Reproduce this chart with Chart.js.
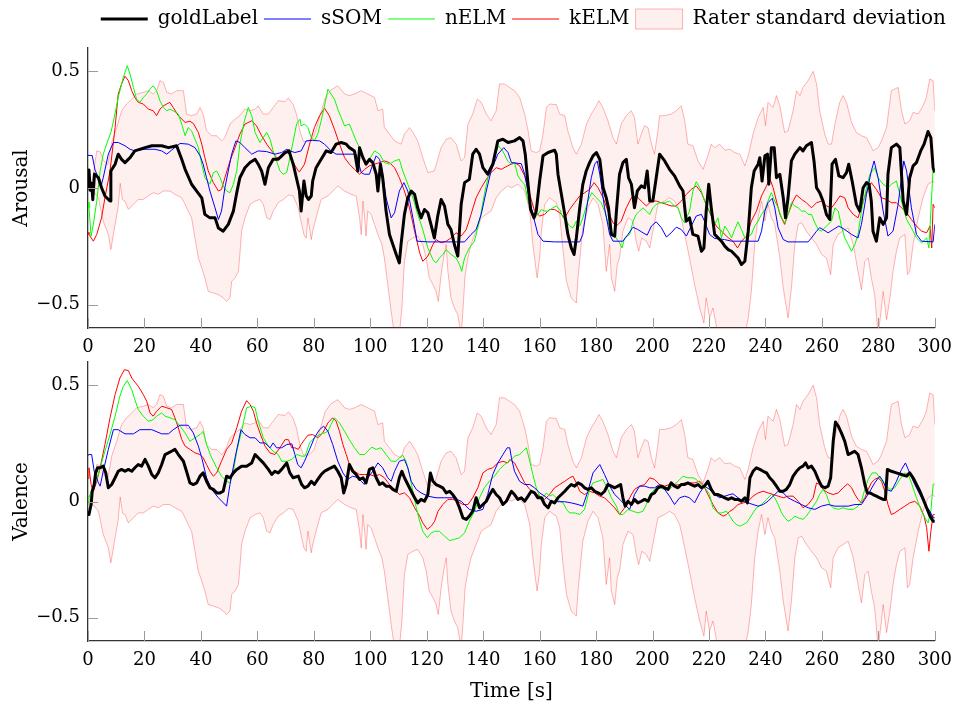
<!DOCTYPE html>
<html><head><meta charset="utf-8">
<script src="https://cdn.jsdelivr.net/npm/chart.js@4/dist/chart.umd.min.js"></script>
<style>
html,body{margin:0;padding:0;background:#fff;}
#wrap{position:relative;width:956px;height:711px;overflow:hidden;background:#fff;}
#c1{position:absolute;left:0;top:0;}
#c2{position:absolute;left:0;top:351px;}
</style></head><body>
<div id="wrap"><canvas id="c1" width="956" height="358"></canvas><canvas id="c2" width="956" height="360"></canvas></div>
<script>
// ---------- labels ----------
const seriesNames = ['goldLabel', 'sSOM', 'nELM', 'kELM', 'Rater standard deviation'];
const panelTitles = ['Arousal', 'Valence'];
const xTitle = 'Time [s]';
const xTicks = [0,20,40,60,80,100,120,140,160,180,200,220,240,260,280,300];
const yTicks = [-0.5, 0, 0.5];

// ---------- Arousal series [time s, value] ----------
const arousalGold = [[0,0.0],[0.35,0.077],[0.8,-0.01],[1.3,0.02],[1.7,-0.05],[2.3,0.06],[3.7,0.044],[4.8,0.001],[6.0,-0.034],[7.8,-0.056],[8.1,0.073],[9.6,0.102],[10.7,0.145],[11.9,0.123],[13.1,0.109],[14.9,0.13],[16.6,0.159],[20.2,0.173],[22.6,0.181],[26.1,0.181],[28.5,0.173],[31.4,0.181],[33.2,0.123],[34.4,0.08],[36.7,0.016],[38.5,-0.013],[40.3,-0.042],[41.4,-0.113],[43.2,-0.128],[45,-0.128],[46.2,-0.171],[47.9,-0.185],[49.7,-0.156],[51.5,-0.099],[52.7,-0.02],[53.8,0.044],[55.6,0.087],[57.4,0.109],[59.2,0.123],[60.3,0.102],[61.5,0.073],[62.7,0.016],[63.9,0.087],[65.6,0.123],[67.4,0.123],[69.8,0.152],[71.2,0.159],[72.7,0.102],[74.9,-0.013],[75.5,-0.099],[76.5,0.03],[77.3,-0.034],[78.1,-0.049],[79.1,-0.034],[79.6,0.03],[80.8,0.087],[82.6,0.123],[84.4,0.159],[86.1,0.152],[87.9,0.188],[89.7,0.195],[91.5,0.188],[92.6,0.173],[94.4,0.159],[95.6,0.073],[96.2,0.173],[97.4,0.13],[98.5,0.102],[99.7,0.123],[100.9,0.109],[102.1,0.059],[102.7,-0.013],[103.6,0.102],[104.4,0.044],[105.6,-0.099],[106.8,-0.199],[108,-0.242],[109.2,-0.285],[110.3,-0.321],[110.9,-0.242],[112.1,-0.113],[113.3,-0.042],[114.5,-0.013],[115.7,-0.027],[116.8,-0.085],[118,-0.128],[119.2,-0.092],[120.4,-0.106],[121.5,-0.156],[122.7,-0.214],[123.9,-0.12],[125.1,-0.049],[126.3,-0.077],[127.5,-0.156],[128.6,-0.178],[129.8,-0.242],[131,-0.292],[132.2,-0.07],[133.4,0.023],[135.1,0.037],[136.3,0.145],[137.5,0.166],[138.7,0.145],[139.9,0.087],[141.6,0.059],[143.4,0.102],[145.2,0.202],[147,0.209],[148.8,0.195],[151.1,0.202],[152.9,0.216],[154.1,0.202],[154.9,0.145],[155.9,0.016],[156.8,-0.092],[158,-0.128],[158.8,-0.099],[160,0.03],[161.2,0.138],[163,0.152],[165.3,0.162],[165.9,0.145],[166.5,0.059],[167.7,-0.027],[168.9,-0.113],[170,-0.199],[171.2,-0.257],[172.2,-0.285],[173,-0.214],[174.2,-0.085],[175.3,0.016],[176.5,0.073],[177.7,0.109],[178.9,0.138],[180.1,0.152],[181.3,0.123],[182.5,0.001],[183.6,-0.042],[184.4,-0.085],[185.4,-0.199],[186.6,-0.206],[187.2,-0.099],[188.3,0.059],[189.5,0.109],[190.7,0.123],[191.5,0.044],[192.5,0.016],[193.6,-0.085],[194.6,-0.013],[196,0.009],[197.2,0.001],[198.1,0.073],[199,-0.056],[200.1,-0.056],[201.3,0.044],[202.5,0.145],[204.3,0.116],[206,0.08],[207.8,0.052],[209.6,0.009],[210.8,-0.013],[211.9,-0.142],[213.1,-0.128],[214.3,-0.199],[216.1,-0.206],[217.3,-0.271],[218.2,-0.257],[219,-0.099],[219.9,0.016],[220.8,-0.085],[222,-0.199],[224.4,-0.228],[225.6,-0.249],[226.8,-0.264],[228,-0.271],[229.1,-0.285],[230.3,-0.3],[231.5,-0.328],[232.7,-0.314],[233.9,-0.185],[235,0.001],[236,0.073],[237.4,0.102],[238,0.13],[238.8,0.03],[239.8,0.138],[240.7,0.145],[241.2,0.016],[242.1,0.173],[243.1,0.173],[243.9,0.044],[245.1,0.059],[246.3,-0.042],[247.1,-0.128],[248,-0.042],[249.2,0.116],[250.4,0.145],[252.2,0.173],[253.3,0.159],[254.5,0.181],[256.3,0.195],[257.2,0.116],[258.1,0.001],[259.2,-0.02],[260.4,-0.056],[261.6,-0.113],[262.8,-0.135],[263.6,0.102],[264.8,0.123],[266,0.052],[267.5,0.044],[268.7,0.066],[269.5,0.102],[270.7,0.03],[272.2,-0.07],[273.4,-0.099],[274.6,0.001],[275.8,0.023],[276.7,0.016],[277.5,-0.056],[278.1,-0.185],[279.3,-0.228],[280.5,-0.128],[281.7,-0.156],[282.9,-0.128],[283.4,0.059],[284.6,0.173],[286.4,0.188],[287.6,0.173],[288.8,-0.056],[290,-0.113],[291.1,0.044],[292.3,0.095],[293.5,0.109],[295,0.159],[296.2,0.188],[297.6,0.242],[298.6,0.216],[299.4,0.087],[300,0.066]];
const arousalSSOM = [[0,0.14],[1.5,0.139],[2.5,0.077],[3.7,0.044],[4.8,0.016],[5.4,0.044],[7.2,0.145],[9,0.195],[10.7,0.195],[13.1,0.181],[14.9,0.166],[16.6,0.159],[20.2,0.166],[23.7,0.166],[26.1,0.159],[27.9,0.145],[29.6,0.162],[32.6,0.191],[35.5,0.188],[37.9,0.173],[39.7,0.138],[40.8,0.102],[42,0.044],[43.2,-0.013],[45,-0.085],[46.2,-0.135],[47.3,-0.099],[48.5,0.001],[50.9,0.145],[52.4,0.202],[53.8,0.195],[55.6,0.173],[58,0.145],[60.3,0.159],[63.3,0.156],[66.2,0.145],[68.6,0.152],[70.4,0.166],[71.5,0.159],[73.3,0.152],[75.5,0.159],[77.3,0.202],[79.6,0.204],[82,0.202],[83.8,0.188],[86.1,0.159],[87.9,0.145],[90.9,0.145],[95,0.145],[96.8,0.066],[97.9,0.059],[99.7,0.059],[100.9,0.102],[102.1,0.138],[103.3,0.123],[104.4,0.059],[105.6,-0.042],[107.4,-0.128],[108.6,-0.106],[110.3,-0.013],[111.9,0.023],[113.3,-0.013],[115.1,-0.128],[116.6,-0.228],[120.4,-0.231],[126.3,-0.231],[133.4,-0.231],[135.7,-0.199],[137.5,-0.178],[139.3,-0.113],[141.1,-0.013],[142.8,0.073],[145.2,0.145],[147.3,0.173],[148.8,0.152],[150,0.109],[153.5,0.104],[154.7,0.059],[156.5,-0.056],[158.2,-0.142],[159.4,-0.199],[161.2,-0.228],[165.3,-0.231],[171.2,-0.231],[174.2,-0.231],[175.3,-0.199],[176.5,-0.099],[178.3,0.044],[179.5,0.102],[180.4,0.116],[181.3,0.059],[183,-0.085],[184.8,-0.199],[186,-0.228],[189.5,-0.228],[191.3,-0.199],[193.1,-0.168],[194.8,-0.178],[196.6,-0.192],[198.1,-0.202],[199.6,-0.163],[201.3,-0.145],[203.1,-0.17],[204.9,-0.21],[206.6,-0.192],[208.4,-0.168],[210.2,-0.178],[212,-0.206],[213.7,-0.163],[215.5,-0.12],[217.3,-0.113],[218.4,-0.142],[220.2,-0.199],[222,-0.216],[225.5,-0.221],[228,-0.228],[237.4,-0.228],[238.6,-0.185],[239.8,-0.099],[240.9,-0.063],[242.4,-0.044],[243.3,-0.085],[244.5,-0.171],[246.3,-0.221],[248,-0.231],[255.1,-0.231],[256.3,-0.214],[258.1,-0.185],[259.2,-0.17],[260.4,-0.178],[262.2,-0.192],[264,-0.178],[266,-0.163],[268.1,-0.178],[270.5,-0.199],[272.8,-0.214],[274,-0.156],[275.8,-0.027],[277.5,0.073],[278.5,0.116],[279.9,0.044],[281.7,-0.099],[283.4,-0.206],[285.2,-0.185],[287,-0.07],[288.2,0.044],[289,0.116],[290,0.073],[291.7,-0.085],[293.5,-0.199],[295.3,-0.228],[299.4,-0.231],[300,-0.156]];
const arousalNELM = [[0,-0.06],[0.35,-0.085],[1.1,-0.206],[1.9,-0.156],[3.1,-0.056],[4.3,0.073],[5.4,0.145],[6.6,0.188],[8.1,0.238],[9.3,0.302],[10.7,0.388],[12.5,0.474],[13.9,0.524],[14.9,0.488],[16.1,0.431],[17.2,0.381],[18.4,0.367],[19.6,0.388],[20.8,0.403],[22,0.424],[23.1,0.438],[24.3,0.417],[25.5,0.374],[26.7,0.345],[27.9,0.331],[29,0.338],[30.2,0.331],[32,0.317],[33.2,0.274],[34.4,0.224],[35.5,0.259],[36.7,0.245],[37.9,0.209],[39.1,0.173],[40.3,0.102],[41.4,0.044],[43.2,0.016],[44.4,0.066],[45.6,0.073],[46.8,0.044],[47.9,0.009],[49.1,-0.013],[50.3,-0.02],[51.5,0.016],[52.7,0.073],[53.8,0.188],[55.4,0.288],[56.8,0.345],[58,0.31],[59.2,0.238],[60.9,0.195],[62.1,0.216],[63.3,0.238],[64.5,0.209],[65.6,0.159],[66.8,0.116],[68,0.073],[69.2,0.059],[70.4,0.066],[71.5,0.13],[72.7,0.202],[73.9,0.274],[75.1,0.295],[75.5,0.266],[76.7,0.274],[77.9,0.259],[79.1,0.216],[80.2,0.202],[81.4,0.231],[82.6,0.288],[83.8,0.352],[85,0.424],[86.1,0.403],[87.3,0.381],[88.5,0.338],[89.7,0.302],[90.9,0.266],[92.6,0.274],[93.8,0.238],[95,0.202],[96.2,0.173],[97.4,0.123],[98.5,0.102],[99.7,0.123],[101.5,0.159],[103.3,0.145],[105,0.109],[106.8,0.102],[108.6,0.116],[110.3,0.123],[111.5,0.073],[113.3,0.016],[115.1,-0.042],[116.8,-0.113],[118.6,-0.178],[120.4,-0.257],[122.2,-0.307],[123.3,-0.321],[124.5,-0.3],[125.7,-0.285],[126.9,-0.264],[128.6,-0.285],[130.4,-0.3],[131.6,-0.328],[132.4,-0.357],[133.4,-0.3],[135.1,-0.257],[136.9,-0.228],[138.7,-0.142],[140.4,-0.027],[142.2,0.073],[144,0.13],[145.4,0.181],[146.9,0.159],[148.7,0.116],[150,0.1],[151.1,0.109],[152.3,0.052],[153.5,0.03],[154.7,0.016],[155.9,-0.056],[157,-0.099],[158.2,-0.128],[159.4,-0.113],[160.6,-0.092],[161.8,-0.099],[163,-0.099],[164.7,-0.085],[165.9,-0.077],[167.1,-0.092],[168.3,-0.128],[169.5,-0.142],[170.6,-0.163],[171.8,-0.171],[173,-0.142],[174.2,-0.163],[175.3,-0.128],[177.1,-0.056],[178.5,-0.02],[180.1,-0.042],[181.8,-0.063],[183,-0.099],[184.8,-0.171],[186.6,-0.206],[188.3,-0.235],[189.2,-0.257],[190.1,-0.214],[191.9,-0.199],[193.1,-0.142],[194.2,-0.113],[195.4,-0.099],[196.6,-0.085],[197.8,-0.099],[199,-0.113],[200.1,-0.085],[201.3,-0.07],[202.5,-0.063],[204.3,-0.063],[206,-0.056],[207.8,-0.077],[209,-0.085],[210.2,-0.128],[211.3,-0.149],[213.1,-0.099],[214.3,-0.013],[215.5,0.027],[217.3,-0.013],[218.4,-0.056],[220.2,-0.099],[222,-0.156],[223.2,-0.128],[224.4,-0.214],[225.6,-0.163],[226.8,-0.185],[228,-0.214],[229.1,-0.178],[230.3,-0.145],[231.5,-0.178],[232.7,-0.214],[233.9,-0.206],[235,-0.199],[236.2,-0.163],[237.4,-0.142],[238.6,-0.113],[239.8,-0.092],[240.9,-0.056],[242.1,-0.02],[243.3,-0.056],[244.5,-0.085],[245.7,-0.128],[246.9,-0.149],[248,-0.113],[249.2,-0.063],[250.4,-0.077],[251.6,-0.085],[252.8,-0.099],[254,-0.099],[255.1,-0.113],[256.3,-0.113],[257.5,-0.149],[258.7,-0.178],[259.9,-0.185],[261.6,-0.163],[263.4,-0.142],[264.6,-0.085],[265.8,-0.099],[266.9,-0.163],[268.1,-0.214],[269.3,-0.242],[270.5,-0.271],[271.7,-0.242],[272.8,-0.199],[274,-0.099],[275.8,0.001],[277,0.059],[278.7,0.087],[279.9,0.044],[281.7,0.016],[283.4,0.001],[284.6,0.016],[286.4,0.03],[287.6,-0.027],[288.8,-0.085],[290,-0.135],[291.7,-0.171],[293.5,-0.214],[295.3,-0.235],[297.1,-0.214],[297.9,-0.257],[298.6,-0.099],[299.4,0.087],[300,0.073]];
const arousalKELM = [[0,-0.19],[0.35,-0.199],[1.9,-0.228],[3.1,-0.199],[4.8,-0.128],[6,-0.042],[7.8,0.073],[9.6,0.259],[10.7,0.403],[11.9,0.446],[13.1,0.479],[14.3,0.46],[15.5,0.417],[16.6,0.388],[17.8,0.367],[19.6,0.36],[21.4,0.338],[23.1,0.331],[24.3,0.31],[25.5,0.338],[26.7,0.352],[27.9,0.36],[29,0.367],[30.2,0.345],[32,0.31],[34.4,0.281],[36.1,0.286],[37.3,0.277],[39.1,0.238],[40.3,0.188],[41.4,0.13],[42.6,0.073],[44.4,0.023],[46.2,-0.013],[47.3,-0.006],[48.5,0.044],[50.3,0.116],[52.1,0.173],[53.8,0.231],[55.6,0.274],[58,0.288],[59.7,0.266],[61.5,0.224],[63.3,0.188],[65.1,0.159],[66.8,0.13],[68.6,0.13],[70.4,0.152],[71.5,0.145],[72.7,0.109],[74.5,0.073],[74.9,0.069],[76.7,0.102],[78.5,0.188],[80.2,0.259],[82,0.309],[83.8,0.342],[85.5,0.309],[87.3,0.252],[89.1,0.188],[90.9,0.13],[92.6,0.102],[94.4,0.08],[96.2,0.059],[98,0.08],[99.7,0.095],[101.5,0.102],[103.3,0.109],[105,0.116],[106.8,0.109],[108.6,0.087],[110.3,0.044],[112.1,-0.013],[113.9,-0.085],[115.7,-0.185],[117.5,-0.278],[118.6,-0.314],[120.4,-0.292],[122.2,-0.242],[123.3,-0.221],[125.1,-0.235],[126.9,-0.228],[128.6,-0.214],[130.4,-0.192],[132.2,-0.206],[134,-0.178],[135.7,-0.113],[137.5,-0.042],[139.3,0.001],[141.1,0.037],[142.8,0.066],[144.6,0.087],[146.4,0.08],[148.7,0.095],[151.1,0.109],[152.9,0.095],[154.7,0.052],[156.5,-0.027],[158.2,-0.099],[160,-0.12],[161.8,-0.113],[163.5,-0.092],[165.3,-0.092],[167.1,-0.106],[168.9,-0.128],[170.6,-0.092],[172.4,-0.063],[174.2,-0.034],[176,-0.02],[177.7,-0.006],[179.3,0.023],[180.7,0.001],[182.5,-0.042],[184.2,-0.099],[186,-0.149],[187.2,-0.163],[188.9,-0.142],[190.7,-0.085],[192.5,-0.042],[194.2,-0.034],[196,-0.056],[197.8,-0.077],[199.6,-0.056],[201.3,-0.056],[203.1,-0.063],[204.9,-0.07],[206.6,-0.077],[208.4,-0.077],[210.2,-0.056],[212,-0.027],[213.7,-0.006],[215.5,0.009],[217.3,-0.02],[219,-0.07],[220.8,-0.12],[222.6,-0.163],[224.4,-0.185],[226.8,-0.213],[228.5,-0.228],[230.1,-0.257],[231.5,-0.228],[233.3,-0.206],[235,-0.142],[236.8,-0.099],[238.6,-0.034],[240.4,0.009],[241.5,0.042],[242.7,0.001],[243.9,-0.056],[245.1,-0.113],[246.8,-0.156],[248,-0.113],[249.8,-0.056],[251,-0.03],[252.8,-0.049],[254.5,-0.063],[256.3,-0.085],[258.1,-0.063],[259.9,-0.056],[261.6,-0.077],[263.4,-0.085],[265.2,-0.056],[266.4,-0.034],[268.1,-0.042],[269.3,-0.085],[271.1,-0.113],[272.8,-0.128],[274.6,-0.056],[276.4,0.001],[277.5,0.023],[279.3,-0.006],[281.1,-0.042],[282.9,-0.049],[284.6,-0.063],[286.4,-0.063],[288.2,-0.085],[290,-0.106],[291.7,-0.135],[293.5,-0.163],[295.3,-0.185],[297.1,-0.192],[298.3,-0.163],[298.9,-0.257],[299.4,-0.07],[300,-0.085]];

// ---------- Valence series [time s, value] ----------
const valenceGold = [[0,-0.05],[0.35,-0.056],[1.1,-0.013],[1.5,0.044],[2.2,0.073],[2.7,0.123],[3.4,0.145],[4.3,0.145],[5.4,0.152],[6.3,0.123],[7.2,0.059],[8.4,0.073],[9.6,0.102],[10.7,0.13],[11.9,0.138],[13.1,0.13],[14.3,0.138],[15.5,0.13],[16.6,0.145],[17.8,0.159],[19,0.152],[20.2,0.181],[21.4,0.152],[22.6,0.116],[23.7,0.102],[24.9,0.123],[26.1,0.159],[27.3,0.202],[28.5,0.209],[29.6,0.216],[30.8,0.224],[32,0.202],[33.8,0.173],[34.9,0.13],[36.1,0.08],[37.3,0.073],[38.5,0.08],[39.7,0.109],[40.8,0.123],[42,0.087],[43.2,0.059],[44.4,0.052],[45.6,0.037],[46.8,0.037],[47.9,0.044],[49.1,0.109],[50.3,0.102],[51.5,0.123],[52.7,0.138],[54.4,0.152],[56.2,0.152],[58,0.166],[59.2,0.202],[60.3,0.188],[62.1,0.166],[63.9,0.138],[65.1,0.116],[66.2,0.13],[67.4,0.123],[68.6,0.138],[70.4,0.166],[71.5,0.123],[72.7,0.102],[74.5,0.109],[75.7,0.073],[76.7,0.059],[77.9,0.066],[79.1,0.087],[80.2,0.073],[81.4,0.095],[82.6,0.116],[83.8,0.13],[85,0.138],[86.1,0.145],[87.3,0.152],[88.5,0.13],[89.7,0.102],[90.6,0.037],[91.5,0.073],[92.6,0.159],[93.8,0.13],[95,0.116],[96.2,0.095],[97.4,0.102],[98.5,0.08],[99.7,0.138],[100.9,0.145],[102.1,0.102],[103.3,0.073],[104.4,0.08],[105.6,0.066],[106.8,0.066],[108,0.052],[109.2,0.044],[110.3,0.102],[111.2,0.13],[112.1,0.102],[113.3,0.073],[114.5,0.044],[115.7,0.016],[116.8,-0.006],[118,0.009],[119.2,0.001],[120.4,0.03],[121.3,0.123],[122.2,0.087],[123.3,0.073],[124.5,0.066],[125.7,0.059],[126.9,0.037],[128.1,0.044],[129.2,0.03],[130.4,0.009],[131.6,-0.027],[132.8,-0.07],[134,-0.077],[135.1,-0.063],[136.3,-0.042],[137.5,0.016],[138.7,-0.027],[139.9,-0.013],[141.1,0.001],[142.3,0.03],[143.4,0.052],[144.6,0.03],[145.8,0.016],[147,-0.013],[148.2,0.001],[149.4,0.03],[150,0.044],[151.1,0.03],[152.3,0.009],[153.5,0.016],[154.7,0.001],[155.9,0.023],[157,0.044],[158.2,0.037],[159.4,0.016],[160.6,0.016],[161.8,-0.013],[163,-0.027],[164.1,0.001],[165.3,-0.006],[166.5,0.016],[167.7,0.03],[168.9,0.044],[170,0.059],[171.2,0.073],[172.4,0.066],[173.6,0.08],[174.8,0.073],[175.9,0.059],[177.1,0.052],[178.3,0.059],[179.5,0.044],[180.7,0.037],[181.8,0.03],[183,0.044],[184.2,0.073],[185.4,0.066],[186.6,0.059],[187.7,0.066],[188.7,0.073],[189.5,0.016],[190.3,-0.02],[191.3,0.001],[192.5,-0.013],[193.6,0.009],[194.8,-0.006],[196,0.001],[197.2,0.009],[198.4,0.001],[199.6,0.03],[200.7,0.037],[201.9,0.059],[203.1,0.066],[204.3,0.059],[205.5,0.052],[206.6,0.08],[207.8,0.066],[209,0.059],[210.2,0.073],[211.4,0.073],[212.5,0.08],[213.7,0.073],[214.9,0.066],[216.1,0.073],[217.3,0.059],[218.4,0.066],[219.6,0.087],[220.8,0.052],[222,0.03],[223.2,0.03],[224.4,0.023],[225.6,0.016],[226.8,0.009],[228,0.016],[229.1,0.009],[230.3,0.009],[231.5,0.001],[232.7,0.016],[233.6,-0.006],[234.5,0.102],[235.6,0.13],[236.8,0.145],[238,0.138],[239.2,0.13],[240.4,0.123],[241.5,0.102],[242.7,0.087],[243.9,0.066],[245.1,0.044],[246.3,0.044],[247.4,0.052],[248.6,0.073],[249.8,0.109],[251,0.13],[252.2,0.145],[253.3,0.152],[254.2,0.166],[255.1,0.145],[256.3,0.152],[257.5,0.13],[258.7,0.095],[259.9,0.066],[261,0.059],[262.2,0.066],[263.1,0.102],[264,0.259],[264.8,0.342],[265.8,0.324],[266.9,0.295],[268.1,0.259],[269.3,0.202],[270.5,0.209],[271.6,0.216],[272.8,0.202],[274,0.145],[275.2,0.073],[276.1,0.037],[277,0.037],[278.1,0.03],[279.3,0.023],[280.5,0.016],[281.7,0.009],[282.5,0.009],[283.2,0.138],[284.6,0.13],[286.4,0.123],[288.2,0.116],[290,0.109],[291.1,0.123],[292.3,0.102],[293.5,0.073],[294.7,0.044],[295.9,0.009],[297.1,-0.027],[298.3,-0.063],[299.4,-0.085],[300,-0.085]];
const valenceSSOM = [[0,0.2],[0.35,0.202],[1.3,0.202],[2.2,0.13],[3.7,0.08],[4.3,0.066],[5.4,0.13],[7.2,0.224],[9,0.309],[10.7,0.309],[13.1,0.291],[16.1,0.291],[18.4,0.309],[22.6,0.309],[26.1,0.291],[28.5,0.291],[30.2,0.309],[32.6,0.328],[35.5,0.328],[37.3,0.295],[39.1,0.238],[40.3,0.188],[42,0.102],[43.8,0.052],[46.2,0.016],[49.1,-0.02],[50.3,0.073],[52.1,0.188],[54.2,0.309],[55.6,0.288],[57.4,0.274],[59.2,0.274],[60.9,0.252],[62.7,0.252],[64.5,0.231],[65.6,0.252],[66.8,0.231],[68.6,0.231],[70.4,0.245],[72.2,0.248],[73.3,0.202],[74.3,0.159],[75.5,0.145],[76.7,0.173],[78.5,0.224],[80.2,0.274],[82,0.309],[83.5,0.324],[85,0.302],[86.7,0.245],[88.5,0.173],[90.3,0.123],[92,0.095],[93.8,0.109],[95.6,0.102],[96.8,0.087],[97.9,0.073],[99.1,0.102],[100.9,0.13],[102.7,0.166],[104.4,0.145],[106.2,0.102],[107.4,0.087],[108.6,0.13],[110.3,0.173],[112.1,0.18],[113.3,0.145],[114.5,0.087],[116.3,0.052],[118,0.037],[120.4,0.023],[123.3,0.016],[126.3,0.016],[129.2,0.016],[132.2,0.001],[135.1,-0.034],[137.5,-0.042],[139.9,-0.034],[141.6,0.03],[143.4,0.116],[145.2,0.166],[147,0.202],[148.5,0.231],[149.4,0.231],[150,0.188],[151.1,0.13],[152.9,0.087],[154.7,0.073],[156.5,0.073],[158.2,0.059],[160,0.037],[161.8,0.023],[164.1,0.001],[166.5,-0.001],[168.9,-0.001],[171.2,-0.006],[173.6,-0.013],[175.3,-0.02],[177.1,0.044],[178.9,0.123],[181.3,0.159],[183,0.116],[184.8,0.066],[186.6,0.03],[188.4,0.009],[190.1,-0.013],[191.9,-0.034],[193.6,0.03],[195.4,0.066],[197.2,0.066],[199,0.059],[200.7,0.059],[202.5,0.073],[204.3,0.052],[206,0.023],[207.8,-0.013],[209.6,0.016],[211.4,0.023],[213.1,0.016],[214.9,-0.006],[216.7,0.037],[218.4,0.066],[220.2,0.052],[222,0.03],[223.8,0.016],[225.6,0.023],[227.4,0.03],[228.5,0.033],[230.3,0.016],[232.1,0.001],[233.9,-0.006],[235.6,-0.013],[237.4,-0.02],[239.2,-0.013],[240.9,0.001],[242.7,0.023],[244.5,0.044],[246.3,0.037],[248,0.016],[250.4,0.001],[252.8,-0.013],[255.1,-0.027],[257.5,-0.034],[259.8,-0.02],[262.2,-0.013],[264.6,-0.02],[266.9,-0.02],[269.3,-0.02],[271.7,-0.013],[274,-0.013],[275.2,0.009],[277,0.044],[278.7,0.08],[280.5,0.109],[281.7,0.087],[282.9,0.052],[284.6,0.044],[286.4,0.087],[288.2,0.138],[289.6,0.166],[291.1,0.123],[292.9,0.073],[294.7,0.03],[296.5,-0.013],[298.3,-0.042],[299.4,-0.07],[300,-0.07]];
const valenceNELM = [[0,0.0],[0.35,0.016],[1.1,0.044],[1.9,0.066],[3.1,0.095],[4.3,0.145],[6,0.216],[7.8,0.288],[9.6,0.367],[11.3,0.453],[12.5,0.495],[13.9,0.52],[15.5,0.481],[16.6,0.438],[17.8,0.396],[19.6,0.367],[21.4,0.345],[23.1,0.352],[24.3,0.367],[26.1,0.381],[27.3,0.367],[29,0.36],[30.8,0.352],[32.6,0.324],[34.4,0.295],[36.1,0.259],[37.9,0.274],[39.7,0.288],[40.8,0.302],[42,0.245],[43.8,0.188],[45.6,0.145],[47.3,0.109],[49.1,0.087],[50.3,0.08],[51.5,0.13],[52.7,0.216],[54.4,0.302],[56.2,0.403],[58,0.41],[59.2,0.403],[60.3,0.345],[62.1,0.274],[63.9,0.238],[65.6,0.216],[67.4,0.202],[68.6,0.173],[70.4,0.173],[72.2,0.181],[74,0.202],[75.7,0.195],[76.9,0.195],[78.5,0.252],[80.2,0.274],[82,0.288],[83.8,0.295],[85,0.302],[86.1,0.331],[87.3,0.36],[89.1,0.338],[90.9,0.302],[92.6,0.266],[94.4,0.231],[96.2,0.202],[98,0.202],[99.1,0.216],[100.5,0.234],[102.1,0.224],[103.8,0.231],[105.6,0.202],[107.4,0.173],[109.2,0.173],[110.3,0.188],[111.5,0.199],[112.7,0.173],[113.9,0.116],[115.1,0.044],[116.3,-0.027],[117.5,-0.085],[118.6,-0.128],[120.2,-0.156],[121.6,-0.135],[122.8,-0.128],[124.5,-0.128],[126.3,-0.149],[128.1,-0.168],[129.8,-0.163],[131.6,-0.156],[133.4,-0.135],[135.1,-0.085],[136.9,-0.042],[138.7,0.016],[140.4,0.059],[142.2,0.087],[144,0.109],[145.8,0.138],[147.5,0.159],[149.3,0.173],[151.1,0.195],[152.9,0.202],[154.1,0.216],[155.3,0.231],[156.5,0.173],[157.6,0.116],[158.8,0.059],[160,0.023],[161.2,0.016],[162.4,0.037],[163.5,0.023],[164.7,0.03],[165.9,0.016],[167.1,0.001],[168.3,-0.006],[169.5,-0.034],[170.6,-0.049],[172.4,-0.049],[174.2,-0.056],[175.9,-0.034],[177.7,0.052],[178.9,0.08],[180.7,0.087],[182.4,0.095],[184.2,0.052],[185.4,0.016],[187.2,-0.02],[188.3,-0.056],[189.5,-0.056],[191.3,-0.034],[193.1,-0.042],[194.8,-0.049],[196.6,-0.042],[197.8,-0.013],[199,0.03],[200.7,0.052],[202.5,0.059],[204.3,0.052],[206,0.052],[207.2,0.066],[209,0.087],[210.8,0.109],[212.5,0.102],[214.3,0.102],[215.5,0.095],[217.3,0.073],[219,0.052],[220.2,0.03],[221.4,-0.027],[223.2,-0.049],[224.4,-0.049],[226.2,-0.042],[227.4,-0.063],[228.5,-0.085],[229.7,-0.099],[230.9,-0.106],[232.1,-0.099],[233.3,-0.092],[234.5,-0.07],[235.6,-0.049],[236.8,-0.027],[238.6,-0.013],[240.4,0.009],[242.1,0.03],[243.3,0.016],[244.5,-0.013],[245.7,-0.049],[246.9,-0.07],[248,-0.085],[249.2,-0.077],[250.4,-0.063],[251.6,-0.07],[253.3,-0.077],[254.5,-0.063],[255.7,-0.042],[256.9,-0.02],[258.1,0.001],[259.2,0.03],[260.4,0.052],[261.6,0.03],[262.8,-0.013],[264,-0.027],[265.8,-0.034],[267.5,-0.027],[269.3,-0.034],[271.1,-0.034],[272.8,-0.02],[274,0.001],[275.2,0.052],[276.4,0.095],[277.8,0.123],[279.3,0.123],[280.5,0.102],[281.7,0.08],[282.9,0.066],[284.1,0.052],[285.8,0.059],[287.6,0.095],[289.4,0.123],[290.6,0.116],[291.7,0.08],[293.5,0.016],[295.3,-0.042],[296.5,-0.07],[297.6,-0.092],[298.6,-0.042],[299.4,0.073],[300,0.076]];
const valenceKELM = [[0,0.1],[0.35,0.145],[1.1,0.073],[1.9,0.044],[3.1,0.087],[4.3,0.145],[6,0.245],[7.8,0.36],[9.6,0.46],[11.3,0.531],[12.9,0.567],[14.3,0.563],[15.5,0.531],[16.6,0.514],[17.8,0.496],[19.6,0.46],[20.8,0.431],[22,0.381],[23.1,0.367],[24.3,0.388],[26.1,0.41],[27.9,0.403],[29.6,0.396],[30.8,0.36],[32,0.317],[33.2,0.267],[34.4,0.238],[36.1,0.224],[37.9,0.209],[39.7,0.202],[40.8,0.188],[42,0.159],[43.2,0.13],[44.4,0.109],[45.6,0.123],[47.3,0.173],[49.1,0.224],[50.9,0.252],[52.7,0.317],[54.4,0.388],[56.2,0.434],[57.4,0.417],[58.6,0.388],[59.7,0.338],[60.9,0.295],[62.7,0.238],[64.5,0.209],[66.2,0.202],[68,0.231],[69.8,0.266],[71,0.266],[72.2,0.231],[73.3,0.231],[74.5,0.224],[75.5,0.245],[76.7,0.266],[77.9,0.285],[79.6,0.288],[81.4,0.274],[83.2,0.295],[85,0.338],[86.7,0.36],[87.9,0.345],[89.1,0.302],[90.3,0.245],[91.5,0.202],[92.6,0.159],[94.4,0.13],[96.2,0.116],[97.9,0.116],[99.7,0.116],[101.5,0.109],[103.3,0.116],[105,0.102],[106.8,0.073],[108.6,0.052],[110.3,0.03],[112.1,0.037],[113.9,0.016],[115.7,-0.027],[117.5,-0.063],[118.6,-0.092],[120.2,-0.12],[121.6,-0.106],[122.8,-0.085],[124,-0.042],[125.7,-0.013],[127.5,0.009],[129.2,0.009],[131,0.001],[132.8,-0.013],[134.6,-0.013],[136.3,0.016],[138.1,0.059],[139.9,0.123],[141.6,0.138],[143.4,0.145],[145.2,0.166],[147,0.173],[148.7,0.166],[149.4,0.18],[151.1,0.166],[152.9,0.123],[154.7,0.08],[156.5,0.052],[158.2,0.037],[160,0.023],[161.8,0.009],[163.5,0.03],[165.3,0.059],[167.1,0.073],[168.9,0.087],[170.6,0.102],[171.8,0.109],[173,0.08],[174.2,0.044],[175.9,0.03],[177.7,0.044],[179.5,0.037],[181.3,0.023],[183,0.016],[184.8,-0.006],[186.6,-0.027],[188.3,-0.056],[190.1,-0.027],[191.9,0.016],[193.6,0.052],[195.4,0.066],[197.2,0.073],[199,0.102],[200.7,0.095],[202.5,0.073],[204.3,0.066],[206,0.073],[207.8,0.07],[209.6,0.073],[211.4,0.08],[213.1,0.08],[214.9,0.08],[216.7,0.087],[217.9,0.073],[219.6,0.03],[221.4,-0.013],[223.2,-0.049],[225,-0.063],[226.2,-0.056],[227.4,-0.042],[228.5,-0.034],[230.3,-0.013],[232.1,-0.006],[233.9,0.001],[235.6,0.023],[237.4,0.037],[239.2,0.044],[240.9,0.037],[242.7,0.03],[244.5,0.023],[246.3,0.016],[248,0.023],[249.8,0.023],[251.6,0.001],[253.3,-0.027],[255.1,-0.013],[256.9,0.016],[258.1,0.08],[259.2,0.073],[260.4,0.052],[262.2,0.037],[264,0.03],[265.8,0.037],[267.5,0.059],[269.1,0.076],[270.5,0.059],[271.7,0.03],[272.8,0.009],[274,-0.006],[275.2,0.016],[276.4,0.052],[277.5,0.08],[278.7,0.095],[279.9,0.102],[281.1,0.087],[282.3,0.044],[283.4,-0.013],[284.6,-0.056],[285.8,-0.049],[287.6,-0.034],[289.4,-0.02],[291.1,-0.006],[292.9,0.001],[294.7,-0.02],[296.2,-0.063],[297.1,-0.113],[297.9,-0.214],[298.6,-0.128],[299.4,-0.056],[300,-0.056]];

// ---------- Rater standard deviation band (same in both panels) ----------
const stdUpper = [[0,0.02],[1.5,0.03],[3.1,0.159],[4.3,0.155],[5.4,0.12],[7,0.1],[8.5,0.2],[10.2,0.259],[11.9,0.331],[13.7,0.36],[15.5,0.381],[17.2,0.403],[19.6,0.41],[21.4,0.417],[23.1,0.403],[24.3,0.417],[25.5,0.46],[26.7,0.453],[27.9,0.41],[29.6,0.403],[31.4,0.417],[33.8,0.417],[34.9,0.317],[36.7,0.31],[38.5,0.317],[39.7,0.345],[40.8,0.317],[42,0.245],[43.8,0.224],[45.6,0.224],[47.3,0.202],[48.5,0.216],[50.3,0.274],[52.1,0.295],[53.8,0.31],[55.6,0.338],[57.4,0.331],[59.2,0.338],[60.3,0.352],[62.1,0.317],[63.9,0.317],[65.6,0.345],[67.4,0.374],[69.8,0.37],[71,0.386],[72.7,0.357],[73.9,0.314],[75.1,0.242],[76.3,0.2],[78,0.2],[80,0.22],[82,0.3],[84,0.386],[86,0.42],[88.5,0.438],[90.9,0.403],[92.6,0.396],[94.4,0.403],[96.8,0.417],[99.1,0.403],[101.5,0.388],[102.7,0.331],[104.4,0.338],[105,0.259],[106.8,0.231],[108.6,0.202],[110.9,0.188],[112.1,0.231],[113.9,0.259],[115.1,0.238],[116.8,0.202],[118.6,0.13],[120.4,0.066],[122.7,0.073],[125.1,0.173],[126.9,0.209],[128.6,0.216],[130.4,0.188],[132.2,0.116],[133.4,0.13],[134.6,0.274],[136.3,0.317],[137.9,0.381],[139.3,0.367],[141.1,0.317],[142.8,0.288],[144.6,0.331],[145.8,0.446],[147.5,0.446],[149.3,0.431],[151.1,0.417],[152.9,0.388],[154.7,0.317],[155.9,0.245],[157,0.159],[158.8,0.152],[160,0.159],[161.2,0.231],[162.4,0.345],[163.5,0.36],[165.9,0.357],[167.1,0.317],[168.9,0.31],[170,0.245],[171.8,0.173],[173,0.145],[174.8,0.188],[176.6,0.274],[178.3,0.317],[179.7,0.345],[181,0.374],[182.4,0.345],[184.2,0.288],[186,0.216],[187.2,0.188],[188.9,0.274],[190.7,0.31],[192.5,0.331],[193.6,0.302],[194.8,0.188],[196,0.231],[197.2,0.267],[198.4,0.259],[199.6,0.188],[200.7,0.145],[201.9,0.245],[202.5,0.31],[204.3,0.31],[206.6,0.317],[208.4,0.331],[210.2,0.352],[211.4,0.288],[212.5,0.188],[214.3,0.181],[216.1,0.116],[217.9,0.08],[219.6,0.138],[220.8,0.188],[222,0.173],[223.8,0.188],[225.6,0.162],[227.4,0.166],[229.1,0.152],[230.9,0.145],[232.7,0.095],[233.9,0.138],[235.6,0.231],[237.4,0.302],[239.2,0.345],[240,0.267],[240.9,0.367],[242.7,0.345],[243.9,0.396],[245.1,0.352],[246.8,0.238],[248,0.245],[249.8,0.331],[251,0.417],[252.2,0.396],[253.3,0.431],[255.1,0.46],[256.9,0.5],[258.1,0.446],[259.2,0.331],[261,0.231],[262.2,0.188],[263.4,0.188],[264.6,0.274],[266.3,0.367],[267.5,0.396],[268.7,0.367],[270.5,0.281],[272.2,0.238],[274,0.224],[275.8,0.216],[277,0.188],[278.1,0.159],[279.9,0.173],[281.1,0.202],[282.9,0.259],[284.6,0.417],[287,0.431],[288.2,0.331],[289.4,0.274],[291.1,0.288],[292.3,0.324],[294.1,0.317],[295.8,0.352],[297,0.388],[298.2,0.467],[299.4,0.46],[300,0.33]];
const stdLower = [[0,-0.01],[1.9,-0.015],[3.7,-0.042],[5.4,-0.142],[7.2,-0.199],[8.1,-0.264],[9.6,-0.156],[10.7,-0.08],[11.4,0.02],[12.2,-0.05],[13.1,-0.056],[14.3,-0.092],[16.1,-0.07],[17.8,-0.049],[19.6,-0.049],[21.4,-0.034],[23.1,-0.02],[24.9,-0.027],[26.7,-0.013],[29,-0.013],[30.8,-0.027],[33.2,-0.042],[34.4,-0.07],[35.5,-0.099],[36.7,-0.128],[37.9,-0.214],[39.1,-0.3],[40.3,-0.342],[41.4,-0.385],[42.6,-0.443],[44.4,-0.45],[46.2,-0.457],[47.9,-0.471],[49.1,-0.486],[50.3,-0.471],[50.9,-0.4],[52.1,-0.385],[53.3,-0.357],[53.8,-0.285],[54.4,-0.185],[55.6,-0.128],[57.4,-0.07],[59.2,-0.056],[60.9,-0.049],[62.1,-0.07],[63.3,-0.128],[64.5,-0.135],[65.6,-0.099],[67.4,-0.063],[69.2,-0.049],[71,-0.03],[72.7,-0.034],[74.5,-0.085],[75.7,-0.156],[76.5,-0.2],[77.3,-0.214],[77.9,-0.128],[79.1,-0.221],[79.6,-0.185],[80.8,-0.128],[82.6,-0.049],[85,-0.034],[86.7,-0.013],[88.5,0.009],[90.9,-0.013],[93.2,-0.027],[95,-0.034],[96.2,-0.128],[96.8,-0.2],[97.4,-0.056],[98,-0.128],[98.5,-0.206],[99.1,-0.099],[100.3,-0.113],[101.5,-0.156],[102.7,-0.199],[104.1,-0.242],[105,-0.3],[106.2,-0.414],[107.4,-0.529],[108.6,-0.63],[110.3,-0.63],[111.2,-0.514],[112.1,-0.314],[113.3,-0.228],[115.1,-0.214],[116.8,-0.206],[118.6,-0.242],[119.8,-0.299],[120.9,-0.385],[122.2,-0.414],[123.3,-0.443],[124.1,-0.486],[125.1,-0.371],[126,-0.299],[126.9,-0.242],[127.5,-0.357],[128.6,-0.471],[129.8,-0.514],[131,-0.543],[132.2,-0.63],[132.8,-0.529],[133.6,-0.371],[134.6,-0.299],[135.7,-0.242],[137.5,-0.185],[139.3,-0.128],[141.1,-0.113],[142.8,-0.099],[144.6,-0.042],[146.4,-0.013],[148.7,0.009],[150,0.001],[152.3,0.016],[154.7,-0.013],[156.5,-0.099],[157.6,-0.242],[159.1,-0.385],[160,-0.3],[160.6,-0.185],[161.8,-0.07],[163.5,-0.042],[165.9,-0.063],[167.1,-0.113],[168.3,-0.271],[169.5,-0.4],[171.2,-0.471],[173,-0.493],[173.6,-0.385],[175.3,-0.17],[177.1,-0.085],[178.9,-0.042],[180.7,-0.07],[182.4,-0.156],[183.6,-0.357],[184.8,-0.242],[185.4,-0.385],[186.6,-0.443],[187.5,-0.328],[188.3,-0.3],[189.5,-0.185],[191.3,-0.128],[193.1,-0.142],[194.2,-0.228],[195.1,-0.271],[196.2,-0.214],[197.8,-0.228],[199,-0.257],[200.1,-0.185],[201.9,-0.07],[204.3,-0.056],[206,-0.042],[207.8,-0.056],[209.6,-0.099],[211.4,-0.199],[213.1,-0.3],[214.9,-0.414],[216.7,-0.514],[218.2,-0.579],[219,-0.471],[220.2,-0.557],[221.4,-0.514],[223.2,-0.63],[232.7,-0.63],[233.9,-0.557],[235,-0.443],[236.2,-0.242],[237.4,-0.128],[238.6,-0.056],[239.8,-0.142],[240.9,-0.07],[242.1,-0.128],[243.3,-0.156],[245.1,-0.3],[246.3,-0.428],[248,-0.557],[249.2,-0.428],[250.4,-0.242],[251.6,-0.156],[252.8,-0.149],[254.5,-0.185],[256.3,-0.214],[258.1,-0.242],[259.9,-0.285],[261.6,-0.3],[263.1,-0.371],[264,-0.242],[265.7,-0.199],[267.5,-0.185],[269.3,-0.171],[271.1,-0.242],[272.8,-0.357],[274,-0.436],[275.2,-0.314],[276.4,-0.3],[277.5,-0.385],[278.7,-0.457],[279.9,-0.63],[281.1,-0.514],[281.7,-0.443],[282.9,-0.564],[284.1,-0.471],[285.2,-0.357],[286.4,-0.271],[287.6,-0.214],[289.4,-0.199],[290.3,-0.371],[291.1,-0.357],[292.3,-0.242],[294.1,-0.128],[295.8,-0.042],[297.6,0.016],[299.4,0.03],[300,0.02]];

// ---------- styling ----------
const FONT = 'DejaVu Serif';
const colors = ['#000000', '#0000ff', '#00ff00', '#ff0000'];
const widths = [3, 1, 1, 1];
const bandLine = 'rgba(255,0,0,0.30)';
const bandFill = 'rgba(255,0,0,0.06)';
const axisColor = '#333333';
const tickColor = '#9a9a9a';

function pts(arr) { return arr.map(p => ({x: p[0], y: p[1]})); }

function makeDatasets(series) {
  const ds = series.map((s, i) => ({
    label: seriesNames[i], data: pts(s), borderColor: colors[i], backgroundColor: colors[i],
    borderWidth: widths[i], pointRadius: 0, tension: 0, fill: false,
    borderJoinStyle: 'round', legendStyle: 'line'
  }));
  ds.push({label: seriesNames[4], data: pts(stdUpper), borderColor: bandLine, backgroundColor: bandFill,
    borderWidth: 1, pointRadius: 0, tension: 0, fill: '+1', legendStyle: 'rect'});
  ds.push({label: '', data: pts(stdLower), borderColor: bandLine, backgroundColor: bandFill,
    borderWidth: 1, pointRadius: 0, tension: 0, fill: false, legendStyle: 'rect'});
  return ds;
}

const innerTicks = {
  id: 'innerTicks',
  afterDatasetsDraw(chart) {
    const {ctx, chartArea} = chart;
    const xs = chart.scales.x, ys = chart.scales.y;
    ctx.save();
    ctx.strokeStyle = tickColor; ctx.lineWidth = 1;
    xs.ticks.forEach(t => {
      const px = Math.round(xs.getPixelForValue(t.value)) + 0.5;
      ctx.beginPath(); ctx.moveTo(px, chartArea.bottom); ctx.lineTo(px, chartArea.bottom - 10); ctx.stroke();
    });
    ys.ticks.forEach(t => {
      const py = Math.round(ys.getPixelForValue(t.value)) + 0.5;
      ctx.beginPath(); ctx.moveTo(chartArea.left, py); ctx.lineTo(chartArea.left + 10, py); ctx.stroke();
    });
    ctx.restore();
  }
};

function dummyAxis(pos, size) {
  const horiz = pos === 'top' || pos === 'bottom';
  return {type: 'linear', position: pos, min: 0, max: 1, display: true,
    ticks: {display: false}, grid: {display: false, drawTicks: false}, border: {display: false},
    afterFit: s => { if (horiz) s.height = size; else s.width = size; }};
}

function makeChart(canvasId, series, yTitle, withLegend, withXTitle) {
  const fontTick = {family: FONT, size: 18};
  const fontTitle = {family: FONT, size: 20};
  const scales = {
    x: {type: 'linear', position: 'bottom', min: 0, max: 300,
      afterBuildTicks: s => { s.ticks = xTicks.map(v => ({value: v})); },
      ticks: {font: fontTick, color: '#000', padding: 4, maxRotation: 0, autoSkip: false, callback: v => String(v)},
      grid: {display: false, drawTicks: true, tickLength: 5},
      border: {display: true, color: axisColor, width: 1.3},
      title: {display: withXTitle, text: xTitle, font: fontTitle, color: '#000', padding: {top: 0, bottom: 7}},
      afterFit: s => { s.height = withXTitle ? 70 : 30; }},
    y: {type: 'linear', position: 'left', min: -0.6, max: 0.6,
      afterBuildTicks: s => { s.ticks = yTicks.map(v => ({value: v})); },
      ticks: {font: fontTick, color: '#000', padding: 0, callback: v => (v < 0 ? '\u2212' + Math.abs(v) : String(v))},
      grid: {display: false, drawTicks: true, tickLength: 8},
      border: {display: true, color: axisColor, width: 1.3},
      title: {display: true, text: yTitle, font: fontTitle, color: '#000', padding: {top: 10, bottom: 0}},
      afterFit: s => { s.width = 88; }},
    yRight: dummyAxis('right', 17)
  };
  if (withLegend) scales.xTop = dummyAxis('top', 9);
  return new Chart(document.getElementById(canvasId), {
    type: 'line',
    data: {datasets: makeDatasets(series)},
    options: {
      responsive: false, animation: false, events: [],
      layout: {autoPadding: false, padding: {top: withLegend ? 3 : 11, right: 4, left: 0, bottom: 0}},
      plugins: {
        tooltip: {enabled: false},
        legend: {display: withLegend, position: 'top', align: 'end',
          labels: {usePointStyle: true, pointStyleWidth: 47, boxHeight: 20, padding: 6,
            font: {family: FONT, size: 20}, color: '#000',
            generateLabels: chart => chart.data.datasets.map((d, i) => ({
              text: d.label, datasetIndex: i, hidden: false,
              fillStyle: d.legendStyle === 'rect' ? bandFill : d.borderColor,
              strokeStyle: d.borderColor, lineWidth: d.borderWidth,
              pointStyle: d.legendStyle, fontColor: '#000'
            })).filter(l => l.text)}}
      },
      scales
    },
    plugins: [innerTicks]
  });
}

makeChart('c1', [arousalGold, arousalSSOM, arousalNELM, arousalKELM], panelTitles[0], true, false);
makeChart('c2', [valenceGold, valenceSSOM, valenceNELM, valenceKELM], panelTitles[1], false, true);
</script>
</body></html>
